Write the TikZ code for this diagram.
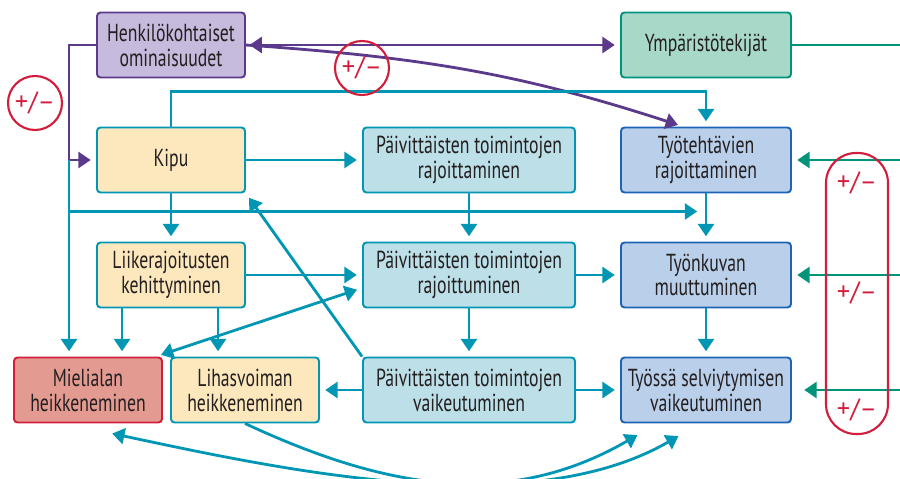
\documentclass[tikz,border=0pt]{standalone}
\usepackage{fontspec}
\setmainfont{PT Sans}[FakeStretch=0.72]
\newfontfamily\pmfont{PT Sans}
\usetikzlibrary{positioning, calc, arrows.meta}

\definecolor{tealc}{HTML}{0096B4}
\definecolor{greenc}{HTML}{00957A}
\definecolor{purplec}{HTML}{5B3A8C}
\definecolor{redc}{HTML}{D21E3C}
\definecolor{txtc}{HTML}{231F20}
\definecolor{creamc}{HTML}{FDE8BE}
\definecolor{paleblue}{HTML}{BCDFE8}
\definecolor{workblue}{HTML}{B9CFEA}
\definecolor{workline}{HTML}{1E64B4}
\definecolor{lavender}{HTML}{C6BADD}
\definecolor{mintc}{HTML}{A8D9C8}
\definecolor{rosec}{HTML}{E39A90}

\begin{document}
\begin{tikzpicture}[node distance=2.3cm,
    box/.style={rectangle, draw, rounded corners=2pt, line width=1.1pt, minimum width=2.96cm, minimum height=1.3cm, align=center, text=txtc, font=\fontsize{14}{14.2}\selectfont},
    yellowbox/.style={box, draw=tealc, fill=creamc},
    dailybox/.style={box, draw=tealc, fill=paleblue, minimum width=4.24cm},
    workbox/.style={box, draw=workline, fill=workblue, minimum width=3.4cm},
    purplebox/.style={box, draw=purplec, fill=lavender},
    greenbox/.style={box, draw=greenc, fill=mintc, minimum width=3.4cm},
    redbox/.style={box, draw=redc, fill=rosec},
    tarr/.style={draw=tealc, line width=1.6pt, -{Triangle[length=7pt,width=9pt]}, shorten >=3pt},
    tdarr/.style={tarr, {Triangle[length=7pt,width=9pt]}-{Triangle[length=7pt,width=9pt]}, shorten <=3pt},
    garr/.style={draw=greenc, line width=1.6pt, -{Triangle[length=7pt,width=9pt]}, shorten >=3pt},
    parr/.style={draw=purplec, line width=1.6pt, -{Triangle[length=7pt,width=9pt]}, shorten >=3pt},
    pmline/.style={draw=redc, line width=1.2pt},
    pmtext/.style={text=redc, font=\pmfont\fontsize{15}{15}\selectfont},
    pmring/.style={pmtext, pmline, circle, minimum size=1.08cm, inner sep=0pt}]

    \useasboundingbox (-3.42,0.9) rectangle (14.58,-8.68);

    % boxes
    \node[purplebox] (henk) {Henkilökohtaiset\\ominaisuudet};
    \node[yellowbox, below of=henk] (kipu) {Kipu};
    \node[yellowbox, below of=kipu] (liike) {Liikerajoitusten\\kehittyminen};
    \node[redbox, below of=liike, xshift=-1.66cm] (mieli) {Mielialan\\heikkeneminen};
    \node[yellowbox, below of=liike, xshift=1.48cm] (lihas) {Lihasvoiman\\heikkeneminen};
    \node[dailybox, right of=kipu, node distance=5.96cm] (paivA) {Päivittäisten toimintojen\\rajoittaminen};
    \node[dailybox, below of=paivA] (paivB) {Päivittäisten toimintojen\\rajoittuminen};
    \node[dailybox, below of=paivB] (paivC) {Päivittäisten toimintojen\\vaikeutuminen};
    \node[greenbox, right of=henk, node distance=10.7cm] (ympar) {Ympäristötekijät};
    \node[workbox, below of=ympar] (tyoA) {Työtehtävien\\rajoittaminen};
    \node[workbox, below of=tyoA] (tyoB) {Työnkuvan\\muuttuminen};
    \node[workbox, below of=tyoB] (tyoC) {Työssä selviytymisen\\vaikeutuminen};

    \coordinate (rim) at (14.58,0);
    \coordinate (lane) at ($(henk.west)+(-0.54,0)$);
    \coordinate (midrow) at ($(lane |- kipu.south)+(0,-0.36)$);
    \coordinate (legA) at ($(liike.south west)+(0.52,0)$);
    \coordinate (legB) at ($(liike.south west)+(2.44,0)$);

    % purple links
    \draw[parr, {Triangle[length=7pt,width=9pt]}-{Triangle[length=7pt,width=9pt]}, shorten <=2pt] (henk) -- (ympar);
    \draw[parr] (henk.west) -- (lane) |- (kipu.west);
    \draw[parr] (henk.east) to[out=-4, in=162] ($(tyoA.north)+(-0.46,0)$);

    % teal links
    \draw[tarr] (lane |- kipu.west) -- (lane |- mieli.north);
    \draw[tarr, shorten >=5pt] (midrow) -- (midrow -| tyoA.south);
    \draw[tarr] (kipu.north) -- ++(0,0.7) -| (tyoA.north);
    \draw[tarr] (kipu) -- (paivA);
    \draw[tarr] (kipu) -- (liike);
    \draw[tarr] (paivA) -- (paivB);
    \draw[tarr] (tyoA) -- (tyoB);
    \draw[tarr] (liike) -- (paivB);
    \draw[tarr] (paivB) -- (tyoB);
    \draw[tarr] (tyoB) -- (tyoC);
    \draw[tarr] (paivB) -- (paivC);
    \draw[tarr] (paivC) -- (lihas);
    \draw[tarr] (paivC) -- (tyoC);
    \draw[tarr] (legA) -- (legA |- mieli.north);
    \draw[tarr] (legB) -- (legB |- lihas.north);
    \draw[tdarr] ($(paivB.west)+(0,-0.26)$) -- ($(mieli.north east)+(-0.14,0)$);
    \draw[tarr] (paivC.north west) -- (kipu.south east);
    \draw[tarr] (lihas.south) to[out=-25, in=-150] ($(tyoC.south)+(-1.28,-0.18)$);
    \draw[tdarr] ($(mieli.south)+(0.38,-0.18)$) to[out=-12, in=-150, looseness=0.8] ($(tyoC.south)+(-0.46,-0.2)$);

    % green links
    \draw[draw=greenc, line width=1.6pt] (ympar) -- (ympar -| rim);
    \draw[garr] (rim |- tyoA) -- (tyoA);
    \draw[garr] (rim |- tyoB) -- (tyoB);
    \draw[garr, shorten >=7pt] (rim |- tyoC) -- (tyoC);

    % +/- marks
    \node[pmring] (pmA) at (-2.72,-1.16) {+/–};
    \node[pmring] (pmB) at (3.82,-0.46) {+/–};
    \draw[pmline, rounded corners=0.6cm] (13.1,-2.16) rectangle (14.34,-7.78);
    \node[pmtext] (pmC) at (13.72,-2.76) {+/–};
    \node[pmtext] (pmD) at (13.72,-4.96) {+/–};
    \node[pmtext] (pmE) at (13.72,-7.3) {+/–};
\end{tikzpicture}
\end{document}
